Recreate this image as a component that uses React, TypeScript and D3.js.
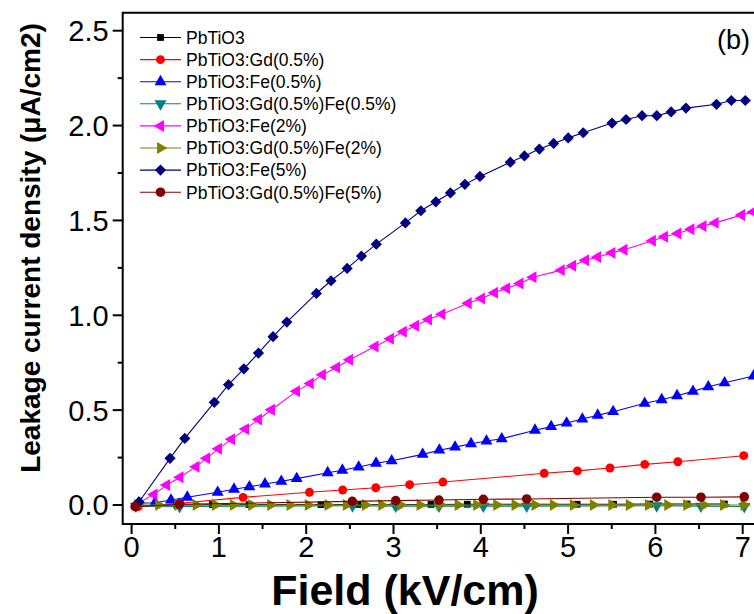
import React from 'react';
import * as d3 from 'd3';

// Leakage current density (µA/cm2) versus applied field (kV/cm), one [field, J] list per composition
const pbtio3: [number, number][] = [
  [0.06, -0.004], [0.517, 0.0], [0.925, 0.002], [1.345, 0.002], [2.17, 0.002], [2.595, 0.003],
  [3.43, 0.003], [3.845, 0.004], [5.103, 0.004], [5.52, 0.004], [5.933, 0.005], [6.363, 0.005], [6.79, 0.005],
];
const gd05: [number, number][] = [
  [0.077, -0.009], [0.553, 0.009], [1.277, 0.04], [2.037, 0.067], [2.418, 0.079], [2.797, 0.091],
  [3.185, 0.107], [3.566, 0.121], [4.726, 0.167], [5.107, 0.18], [5.48, 0.195], [5.878, 0.214],
  [6.257, 0.228], [7.012, 0.26],
];
const fe05: [number, number][] = [
  [0.08, 0.01], [0.268, 0.012], [0.451, 0.026], [0.638, 0.041], [0.986, 0.067], [1.173, 0.083],
  [1.349, 0.096], [1.528, 0.111], [1.715, 0.125], [1.891, 0.139], [2.246, 0.17], [2.414, 0.183],
  [2.601, 0.2], [2.8, 0.22], [2.979, 0.233], [3.334, 0.267], [3.525, 0.289], [3.705, 0.305],
  [3.888, 0.323], [4.065, 0.337], [4.24, 0.349], [4.621, 0.394], [4.806, 0.413], [4.983, 0.432],
  [5.163, 0.453], [5.339, 0.473], [5.516, 0.492], [5.877, 0.536], [6.072, 0.555], [6.248, 0.576],
  [6.43, 0.599], [6.606, 0.623], [6.792, 0.644], [7.125, 0.68],
];
const gdFe05: [number, number][] = [
  [0.05, -0.006], [0.55, -0.008], [2.53, -0.004], [3.025, -0.006], [3.521, -0.006], [4.029, -0.006],
  [4.526, -0.006], [6.015, -0.004], [6.522, -0.006], [7.018, -0.008],
];
const fe2: [number, number][] = [
  [0.08, 0.012], [0.257, 0.056], [0.402, 0.105], [0.554, 0.146], [0.738, 0.202], [0.86, 0.246],
  [0.995, 0.297], [1.145, 0.346], [1.305, 0.4], [1.454, 0.451], [1.602, 0.502], [1.889, 0.599],
  [2.047, 0.641], [2.186, 0.687], [2.348, 0.725], [2.497, 0.766], [2.789, 0.836], [2.965, 0.876],
  [3.113, 0.913], [3.252, 0.945], [3.401, 0.978], [3.554, 1.006], [3.856, 1.063], [4.008, 1.089],
  [4.157, 1.119], [4.296, 1.142], [4.449, 1.168], [4.598, 1.2], [4.922, 1.238], [5.052, 1.261],
  [5.2, 1.29], [5.339, 1.307], [5.502, 1.329], [5.64, 1.345], [5.966, 1.393], [6.104, 1.414],
  [6.257, 1.431], [6.407, 1.453], [6.545, 1.47], [6.684, 1.487], [6.987, 1.528], [7.12, 1.545],
];
const gdFe2: [number, number][] = [
  [0.07, 0.0], [0.31, 0.0], [0.53, 0.0], [0.74, 0.0], [0.96, 0.0], [1.165, 0.0], [1.376, 0.0],
  [1.593, 0.0], [1.814, 0.0], [2.024, 0.0], [2.25, 0.0], [2.46, 0.0], [2.678, 0.0], [2.865, 0.0],
  [3.082, 0.0], [3.304, 0.0], [3.533, 0.0], [3.74, 0.0], [3.953, 0.0], [4.182, 0.0], [4.392, 0.0],
  [4.621, 0.0], [4.831, 0.0], [5.06, 0.0], [5.289, 0.0], [5.5, 0.0], [5.701, 0.0], [5.919, 0.0],
  [6.141, 0.0], [6.359, 0.0], [6.557, 0.0], [6.78, 0.0], [7.015, 0.0],
];
const fe5: [number, number][] = [
  [0.085, 0.016], [0.44, 0.246], [0.609, 0.351], [0.947, 0.541], [1.11, 0.634], [1.286, 0.718],
  [1.453, 0.801], [1.62, 0.887], [1.778, 0.964], [2.117, 1.115], [2.284, 1.182], [2.469, 1.247],
  [2.633, 1.312], [2.803, 1.375], [3.136, 1.487], [3.313, 1.551], [3.485, 1.598], [3.652, 1.645],
  [3.818, 1.69], [3.99, 1.732], [4.338, 1.807], [4.5, 1.84], [4.671, 1.876], [4.834, 1.906],
  [5.001, 1.935], [5.173, 1.962], [5.503, 2.013], [5.664, 2.032], [5.847, 2.052], [6.016, 2.052],
  [6.18, 2.072], [6.35, 2.092], [6.7, 2.112], [6.87, 2.132], [7.03, 2.132],
];
const gdFe5: [number, number][] = [
  [0.04, -0.009], [0.547, 0.004], [2.528, 0.019], [3.025, 0.023], [3.521, 0.026], [4.029, 0.03],
  [4.526, 0.032], [6.015, 0.041], [6.522, 0.041], [7.018, 0.043],
];

const seriesNames = [
  'PbTiO3',
  'PbTiO3:Gd(0.5%)',
  'PbTiO3:Fe(0.5%)',
  'PbTiO3:Gd(0.5%)Fe(0.5%)',
  'PbTiO3:Fe(2%)',
  'PbTiO3:Gd(0.5%)Fe(2%)',
  'PbTiO3:Fe(5%)',
  'PbTiO3:Gd(0.5%)Fe(5%)',
];
const seriesData = [pbtio3, gd05, fe05, gdFe05, fe2, gdFe2, fe5, gdFe5];
const seriesColors = ['#000000', '#ff0000', '#0000ff', '#008080', '#ff00ff', '#808000', '#000080', '#800000'];
type MarkerKind = 'square' | 'circle' | 'up' | 'down' | 'left' | 'right' | 'diamond' | 'hex';
const seriesMarkers: MarkerKind[] = ['square', 'circle', 'up', 'down', 'left', 'right', 'diamond', 'hex'];

const xTickValues = [0, 1, 2, 3, 4, 5, 6, 7];
const xMinorValues = [0.5, 1.5, 2.5, 3.5, 4.5, 5.5, 6.5, 7.5];
const yTickValues = [0, 0.5, 1.0, 1.5, 2.0, 2.5];
const yMinorValues = [0.25, 0.75, 1.25, 1.75, 2.25];

const W = 754;
const H = 614;
const FONT = "'Liberation Sans', Arial, Helvetica, sans-serif";

const frameLeft = 122.7;
const frameTop = 12.7;
const frameBottom = 524;
const frameRight = 790;

const x = d3.scaleLinear().domain([0, 7]).range([131.6, 742.7]);
const y = d3.scaleLinear().domain([0, 2.5]).range([505, 30.7]);

const triPath = d3.symbol(d3.symbolTriangle, 62)() as string;
const squarePath = d3.symbol(d3.symbolSquare, 46)() as string;
const circlePath = d3.symbol(d3.symbolCircle, 62)() as string;
const hexPath = d3.symbol(d3.symbolCircle, 72)() as string;
const diamondPath = 'M0,-5.6L5.6,0L0,5.6L-5.6,0Z';

function Marker({ kind, cx, cy, color }: { kind: MarkerKind; cx: number; cy: number; color: string }) {
  const t = `translate(${cx},${cy})`;
  switch (kind) {
    case 'square':
      return <path d={squarePath} transform={t} fill={color} />;
    case 'circle':
      return <path d={circlePath} transform={t} fill={color} />;
    case 'hex':
      return <path d={hexPath} transform={t} fill={color} />;
    case 'up':
      return <path d={triPath} transform={t} fill={color} />;
    case 'down':
      return <path d={triPath} transform={`${t} rotate(180)`} fill={color} />;
    case 'left':
      return <path d={triPath} transform={`${t} rotate(-90)`} fill={color} />;
    case 'right':
      return <path d={triPath} transform={`${t} rotate(90)`} fill={color} />;
    case 'diamond':
      return <path d={diamondPath} transform={t} fill={color} />;
  }
  return null;
}

export default function App() {
  const line = d3
    .line<[number, number]>()
    .x((d) => x(d[0]))
    .y((d) => y(d[1]));

  const legendX = 140;
  const legendY0 = 37.5;
  const legendDy = 22.1;

  return (
    <div style={{ position: 'absolute', left: 0, top: 0 }}>
      <svg width={W} height={H} style={{ display: 'block', background: '#fff' }} fontFamily={FONT}>
        <defs>
          <clipPath id="plotClip">
            <rect x={frameLeft} y={frameTop} width={frameRight - frameLeft} height={frameBottom - frameTop} />
          </clipPath>
        </defs>

        {/* data */}
        <g clipPath="url(#plotClip)">
          {seriesData.map((data, i) => (
            <g key={seriesNames[i]}>
              <path d={line(data) as string} fill="none" stroke={seriesColors[i]} strokeWidth={1.1} />
              {data.map((d, j) => (
                <Marker key={j} kind={seriesMarkers[i]} cx={x(d[0])} cy={y(d[1])} color={seriesColors[i]} />
              ))}
            </g>
          ))}
        </g>

        {/* frame */}
        <path
          d={`M${frameRight},${frameTop}H${frameLeft}V${frameBottom}H${frameRight}`}
          fill="none"
          stroke="#000"
          strokeWidth={2}
        />

        {/* y axis ticks and labels */}
        {yTickValues.map((v) => (
          <g key={`yt${v}`}>
            <line x1={frameLeft - 10} x2={frameLeft} y1={y(v)} y2={y(v)} stroke="#000" strokeWidth={2} />
            <text x={frameLeft - 14} y={y(v)} dy="0.36em" textAnchor="end" fontSize={29} fill="#000">
              {d3.format('.1f')(v)}
            </text>
          </g>
        ))}
        {yMinorValues.map((v) => (
          <line key={`ym${v}`} x1={frameLeft - 5} x2={frameLeft} y1={y(v)} y2={y(v)} stroke="#000" strokeWidth={2} />
        ))}

        {/* x axis ticks and labels */}
        {xTickValues.map((v) => (
          <g key={`xt${v}`}>
            <line x1={x(v)} x2={x(v)} y1={frameBottom} y2={frameBottom + 10} stroke="#000" strokeWidth={2} />
            <text x={x(v)} y={frameBottom + 12} dy="0.72em" textAnchor="middle" fontSize={29} fill="#000">
              {v}
            </text>
          </g>
        ))}
        {xMinorValues.map((v) => (
          <line key={`xm${v}`} x1={x(v)} x2={x(v)} y1={frameBottom} y2={frameBottom + 5} stroke="#000" strokeWidth={2} />
        ))}

        {/* axis titles */}
        <text x={405} y={605} textAnchor="middle" fontSize={43} fontWeight="bold" fill="#000">
          Field (kV/cm)
        </text>
        <text
          transform={`translate(40,248) rotate(-90)`}
          textAnchor="middle"
          fontSize={28}
          fontWeight="bold"
          fill="#000"
        >
          Leakage current density (μA/cm2)
        </text>

        {/* panel tag */}
        <text x={750} y={49} textAnchor="end" fontSize={27} fill="#000">
          (b)
        </text>

        {/* legend */}
        {seriesNames.map((name, i) => {
          const ly = legendY0 + i * legendDy;
          return (
            <g key={`lg${i}`}>
              <line x1={legendX} x2={legendX + 41} y1={ly} y2={ly} stroke={seriesColors[i]} strokeWidth={1.1} />
              <Marker kind={seriesMarkers[i]} cx={legendX + 20.5} cy={ly} color={seriesColors[i]} />
              <text x={legendX + 46} y={ly} dy="0.36em" fontSize={17.5} fill="#000">
                {name}
              </text>
            </g>
          );
        })}
      </svg>
    </div>
  );
}
